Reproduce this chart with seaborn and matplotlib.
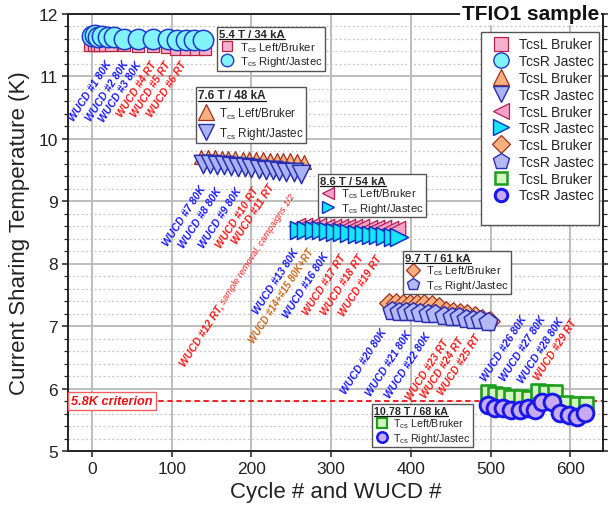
import numpy as np
import pandas as pd
import matplotlib
matplotlib.use("Agg")
import matplotlib.pyplot as plt
import seaborn as sns
from matplotlib.lines import Line2D
from matplotlib.ticker import MultipleLocator

sns.set_theme(style="white")
plt.rcParams['font.family'] = ['Liberation Sans', 'DejaVu Sans']
plt.rcParams['mathtext.fontset'] = 'custom'
plt.rcParams['mathtext.rm'] = 'Liberation Sans'
plt.rcParams['mathtext.it'] = 'Liberation Sans:italic'
plt.rcParams['mathtext.bf'] = 'Liberation Sans:bold'

# ---- 5.4 T / 34 kA ----
cyc_54_L = [-3, 2, 6, 10, 16, 24, 40, 58, 76, 94, 106, 118, 130, 142]
tcs_54_L = [11.50, 11.50, 11.49, 11.50, 11.49, 11.49, 11.49, 11.48, 11.48, 11.46, 11.44, 11.44, 11.44, 11.44]
cyc_54_R = [0, 4, 8, 13, 20, 28, 40, 58, 77, 96, 107, 118, 128, 139]
tcs_54_R = [11.64, 11.65, 11.63, 11.64, 11.62, 11.62, 11.60, 11.60, 11.60, 11.59, 11.58, 11.58, 11.58, 11.58]

# ---- 7.6 T / 48 kA ----
cyc_76_L = [137, 146, 154, 163, 171, 180, 189, 197, 206, 214, 223, 232, 240, 249, 257, 266]
tcs_76_L = [9.70, 9.70, 9.70, 9.69, 9.69, 9.69, 9.68, 9.68, 9.67, 9.67, 9.66, 9.66, 9.65, 9.65, 9.64, 9.63]
cyc_76_R = [139, 148, 157, 166, 174, 183, 192, 200, 209, 218, 227, 235, 244, 253, 262]
tcs_76_R = [9.60, 9.59, 9.58, 9.57, 9.56, 9.55, 9.54, 9.53, 9.52, 9.50, 9.49, 9.48, 9.47, 9.46, 9.44]

# ---- 8.6 T / 54 kA ----
cyc_86_L = [257, 266, 275, 284, 293, 302, 311, 320, 329, 338, 347, 356, 365, 374, 383]
tcs_86_L = [8.60, 8.60, 8.60, 8.60, 8.59, 8.59, 8.59, 8.58, 8.58, 8.58, 8.57, 8.57, 8.57, 8.56, 8.56]
cyc_86_R = [260, 269, 278, 287, 296, 305, 314, 323, 332, 341, 350, 359, 368, 377, 385]
tcs_86_R = [8.54, 8.54, 8.53, 8.53, 8.52, 8.51, 8.50, 8.49, 8.48, 8.47, 8.46, 8.45, 8.44, 8.43, 8.42]

# ---- 9.7 T / 61 kA ----
cyc_97_L = [372, 381, 390, 399, 408, 417, 426, 435, 444, 453, 462, 471, 480, 489, 499]
tcs_97_L = [7.37, 7.37, 7.36, 7.36, 7.35, 7.35, 7.34, 7.30, 7.24, 7.22, 7.21, 7.20, 7.16, 7.12, 7.08]
cyc_97_R = [376, 385, 394, 403, 412, 421, 430, 442, 451, 460, 469, 478, 487, 497]
tcs_97_R = [7.24, 7.23, 7.22, 7.22, 7.21, 7.20, 7.19, 7.16, 7.15, 7.14, 7.12, 7.10, 7.09, 7.06]

# ---- 10.78 T / 68 kA ----
cyc_108_L = [497, 506, 516, 526, 538, 548, 560, 570, 581, 595, 608, 620]
tcs_108_L = [5.95, 5.92, 5.89, 5.87, 5.86, 5.85, 5.96, 5.95, 5.95, 5.77, 5.76, 5.76]
cyc_108_R = [497, 506, 516, 526, 537, 547, 556, 564, 577, 587, 598, 608, 618]
tcs_108_R = [5.74, 5.69, 5.69, 5.66, 5.66, 5.69, 5.66, 5.79, 5.79, 5.61, 5.58, 5.55, 5.61]

# ---- WUCD annotations ----
wucd_text = ["WUCD #1 80K", "WUCD #2 80K", "WUCD #3 80K", "WUCD #4 RT", "WUCD #5 RT", "WUCD #6 RT",
             "WUCD #7 80K", "WUCD #8 80K", "WUCD #9 80K", "WUCD #10 RT", "WUCD #11 RT",
             "WUCD #13 80K", "WUCD #14+#15 80K+RT", "WUCD #16 80K", "WUCD #17 RT", "WUCD #18 RT", "WUCD #19 RT",
             "WUCD #20 80K", "WUCD #21 80K", "WUCD #22 80K", "WUCD #23 RT", "WUCD #24 RT", "WUCD #25 RT",
             "WUCD #26 80K", "WUCD #27 80K", "WUCD #28 80K", "WUCD #29 RT"]
wucd_x = [27, 48, 65, 83, 101, 121,
          145, 165, 190, 212, 231,
          262, 281, 300, 321, 344, 366,
          372, 404, 428, 450, 469, 490,
          548, 572, 594, 610]
wucd_y = [11.28, 11.28, 11.27, 11.27, 11.27, 11.27,
          9.28, 9.25, 9.25, 9.25, 9.31,
          8.27, 8.27, 8.21, 8.19, 8.19, 8.16,
          6.99, 6.96, 6.93, 6.83, 6.85, 6.91,
          7.20, 7.20, 7.17, 7.15]
wucd12_main = "WUCD #12 RT,"
wucd12_note = " sample removal, campaigns 1/2"
wucd12_xy = (116, 6.36)

criterion_T = 5.8

# marker styles (fill, edge)
PINK, PINK_E = '#f6b0d0', '#b02840'
CYAN, CYAN_E = '#80f2f8', '#2038c8'
PEACH, PEACH_E = '#f6b07e', '#a03020'
LAV, LAV_E = '#aab2f2', '#2830b0'
PINK2, PINK2_E = '#f5a0c8', '#b02050'
CYAN2, CYAN2_E = '#14e6f8', '#1030c0'
PENT, PENT_E = '#b4b8f4', '#2a30b0'
GREEN, GREEN_E = '#d4f4c0', '#1e9e1e'
PURP, PURP_E = '#c8aaf2', '#1818e8'
BLUE_T, RED_T, BROWN_T = '#1a1aff', '#ff1a1a', '#c8681c'

fig = plt.figure(figsize=(6.08, 5.10), dpi=100)
ax = fig.add_axes([68/608, 1 - 452/510, 535/608, 437.5/510])

series = [
    (cyc_54_L, tcs_54_L, 's', 80, PINK, PINK_E, 0.9),
    (cyc_54_R, tcs_54_R, 'o', 215, CYAN, CYAN_E, 1.1),
    (cyc_76_L, tcs_76_L, '^', 100, PEACH, PEACH_E, 0.9),
    (cyc_76_R, tcs_76_R, 'v', 175, LAV, LAV_E, 1.1),
    (cyc_86_L, tcs_86_L, '<', 140, PINK2, PINK2_E, 0.9),
    (cyc_86_R, tcs_86_R, '>', 170, CYAN2, CYAN2_E, 1.1),
    (cyc_97_L, tcs_97_L, 'D', 100, PEACH, PEACH_E, 0.9),
    (cyc_97_R, tcs_97_R, 'p', 200, PENT, PENT_E, 1.1),
    (cyc_108_L, tcs_108_L, 's', 105, GREEN, GREEN_E, 1.9),
    (cyc_108_R, tcs_108_R, 'o', 145, PURP, PURP_E, 2.1),
]
for i, (xs, ys, mk, s, fc, ec, lw) in enumerate(series):
    df = pd.DataFrame({"cycle": xs, "tcs": ys})
    sns.scatterplot(data=df, x="cycle", y="tcs", marker=mk, s=s, color=fc,
                    edgecolor=ec, linewidth=lw, ax=ax, zorder=3 + i * 0.1)

ax.axhline(criterion_T, color='#ee1111', lw=1.3, ls=(0, (3, 2)), zorder=2.5)
ax.text(-26, criterion_T, "5.8K criterion", color='#ee1111', fontsize=9.2,
        fontweight='bold', fontstyle='italic', ha='left', va='center', zorder=6,
        bbox=dict(boxstyle='square,pad=0.25', fc='white', ec='#f06060', lw=1.0))

ax.set_xlim(-30, 641)
ax.set_ylim(5, 12)
ax.set_xticks(range(0, 601, 100))
ax.set_yticks(range(5, 13))
ax.yaxis.set_minor_locator(MultipleLocator(0.2))
ax.set_axisbelow(True)
ax.grid(which='major', color='#b8b8b8', lw=1.3)
ax.yaxis.grid(which='minor', color='#c4c4c4', ls=(0, (1.5, 2)), lw=0.9)
ax.xaxis.grid(which='major', color='#b8b8b8', lw=1.3)
for sp in ax.spines.values():
    sp.set_color('#222222')
    sp.set_linewidth(1.4)
ax.tick_params(axis='both', which='major', direction='out', length=4, width=1.1,
               labelsize=12.5, colors='#222222', labelcolor='#222222')
ax.tick_params(axis='y', which='both', right=True, left=True)
ax.tick_params(axis='y', which='minor', direction='out', length=3, width=0.9, color='#222222')
ax.tick_params(axis='x', which='both', bottom=True)
ax.set_xlabel("Cycle # and WUCD #", fontsize=16, color='#222222', labelpad=3)
ax.set_ylabel("Current Sharing Temperature (K)", fontsize=16, color='#222222', labelpad=6)

ANG = 57
LBL_FS = 7.6
for txt, xx, yy in zip(wucd_text, wucd_x, wucd_y):
    if "+" in txt:
        col, fs = BROWN_T, 7.0
    elif "RT" in txt:
        col, fs = RED_T, LBL_FS
    else:
        col, fs = BLUE_T, LBL_FS
    ax.text(xx, yy, txt, rotation=ANG, ha='right', va='top', color=col, fontsize=fs,
            fontweight='bold', fontstyle='italic', zorder=5)

# two-part label for WUCD #12
renderer = fig.canvas.get_renderer()
tmp = ax.text(0, 0, wucd12_main, fontsize=LBL_FS, fontweight='bold', fontstyle='italic')
w_px = tmp.get_window_extent(renderer).width
tmp.remove()
w_pt = w_px * 72 / fig.dpi
ax.text(*wucd12_xy, wucd12_main, rotation=ANG, rotation_mode='anchor', ha='left',
        va='baseline', color=RED_T, fontsize=LBL_FS, fontweight='bold',
        fontstyle='italic', zorder=5)
ax.annotate(wucd12_note, xy=wucd12_xy, xycoords='data',
            xytext=(w_pt * np.cos(np.radians(ANG)), w_pt * np.sin(np.radians(ANG))),
            textcoords='offset points', rotation=ANG, rotation_mode='anchor', ha='left',
            va='baseline', color=RED_T, fontsize=6.6, fontstyle='italic', zorder=5)


def handle(mk, ms, fc, ec, mew):
    return Line2D([], [], ls='none', marker=mk, markersize=ms, markerfacecolor=fc,
                  markeredgecolor=ec, markeredgewidth=mew)


mini_legends = []


def mini_box(h1, h2, title, anchor, fs, spacing):
    leg = ax.legend([h1, h2],
                    [r"T$_{\mathrm{cs}}$ Left/Bruker", r"T$_{\mathrm{cs}}$ Right/Jastec"],
                    title=title, loc='upper left', bbox_to_anchor=anchor,
                    bbox_transform=ax.transAxes, fontsize=fs,
                    title_fontproperties={'weight': 'bold', 'size': fs},
                    alignment='left', frameon=True, fancybox=False,
                    edgecolor='#555555', framealpha=1, borderpad=0.2,
                    labelspacing=spacing, handletextpad=0.4, handlelength=1.4,
                    borderaxespad=0)
    leg.get_frame().set_linewidth(1.0)
    leg.set_zorder(7)
    ax.add_artist(leg)
    mini_legends.append(leg)


mini_box(handle('s', 7.5, PINK, PINK_E, 0.9), handle('o', 9, CYAN, CYAN_E, 1.0),
         "5.4 T / 34 kA", (0.2785, 0.969), 8.2, 0.05)
mini_box(handle('^', 12, PEACH, PEACH_E, 0.9), handle('v', 12, LAV, LAV_E, 1.0),
         "7.6 T / 48 kA", (0.239, 0.832), 8.4, 0.35)
mini_box(handle('<', 8.5, PINK2, PINK2_E, 0.9), handle('>', 8.5, CYAN2, CYAN2_E, 1.0),
         "8.6 T / 54 kA", (0.467, 0.633), 8.2, 0.02)
mini_box(handle('D', 7.5, PEACH, PEACH_E, 0.9), handle('p', 9, PENT, PENT_E, 1.0),
         "9.7 T / 61 kA", (0.626, 0.457), 8.2, 0.02)
mini_box(handle('s', 6.5, GREEN, GREEN_E, 1.6), handle('o', 7.5, PURP, PURP_E, 1.8),
         "10.78 T / 68 kA", (0.568, 0.1074), 7.7, 0.05)

main_handles = [
    handle('s', 10, PINK, PINK_E, 0.9), handle('o', 11, CYAN, CYAN_E, 1.0),
    handle('^', 11, PEACH, PEACH_E, 0.9), handle('v', 11, LAV, LAV_E, 1.0),
    handle('<', 11, PINK2, PINK2_E, 0.9), handle('>', 11, CYAN2, CYAN2_E, 1.0),
    handle('D', 9, PEACH, PEACH_E, 0.9), handle('p', 12, PENT, PENT_E, 1.0),
    handle('s', 8, GREEN, GREEN_E, 1.8), handle('o', 9, PURP, PURP_E, 2.2),
    Line2D([], [], ls='none'),
]
main_labels = ["TcsL Bruker", "TcsR Jastec"] * 5 + [" "]
main_leg = ax.legend(main_handles, main_labels, loc='upper right',
                     bbox_to_anchor=(0.9925, 0.958), bbox_transform=ax.transAxes,
                     fontsize=10, frameon=True, fancybox=False, edgecolor='#555555',
                     framealpha=1, borderpad=0.4, labelspacing=0.2,
                     handletextpad=0.3, handlelength=2.0, borderaxespad=0)
main_leg.get_frame().set_linewidth(1.0)
main_leg.set_zorder(7)

fig.text(462 / 608, 1 - 14 / 510, "TFIO1 sample", fontsize=15, fontweight='bold',
         color='#111111', ha='left', va='center', zorder=10,
         bbox=dict(boxstyle='square,pad=0.1', fc='white', ec='none'))

# underline the mini legend titles
fig.canvas.draw()
for leg in mini_legends:
    bb = leg.get_title().get_window_extent(renderer=fig.canvas.get_renderer())
    y = (bb.y0 + 0.5) / fig.bbox.height
    fig.add_artist(Line2D([bb.x0 / fig.bbox.width, bb.x1 / fig.bbox.width], [y, y],
                          color='#111111', lw=0.9, zorder=20))

fig.savefig("out.png", dpi=100)
